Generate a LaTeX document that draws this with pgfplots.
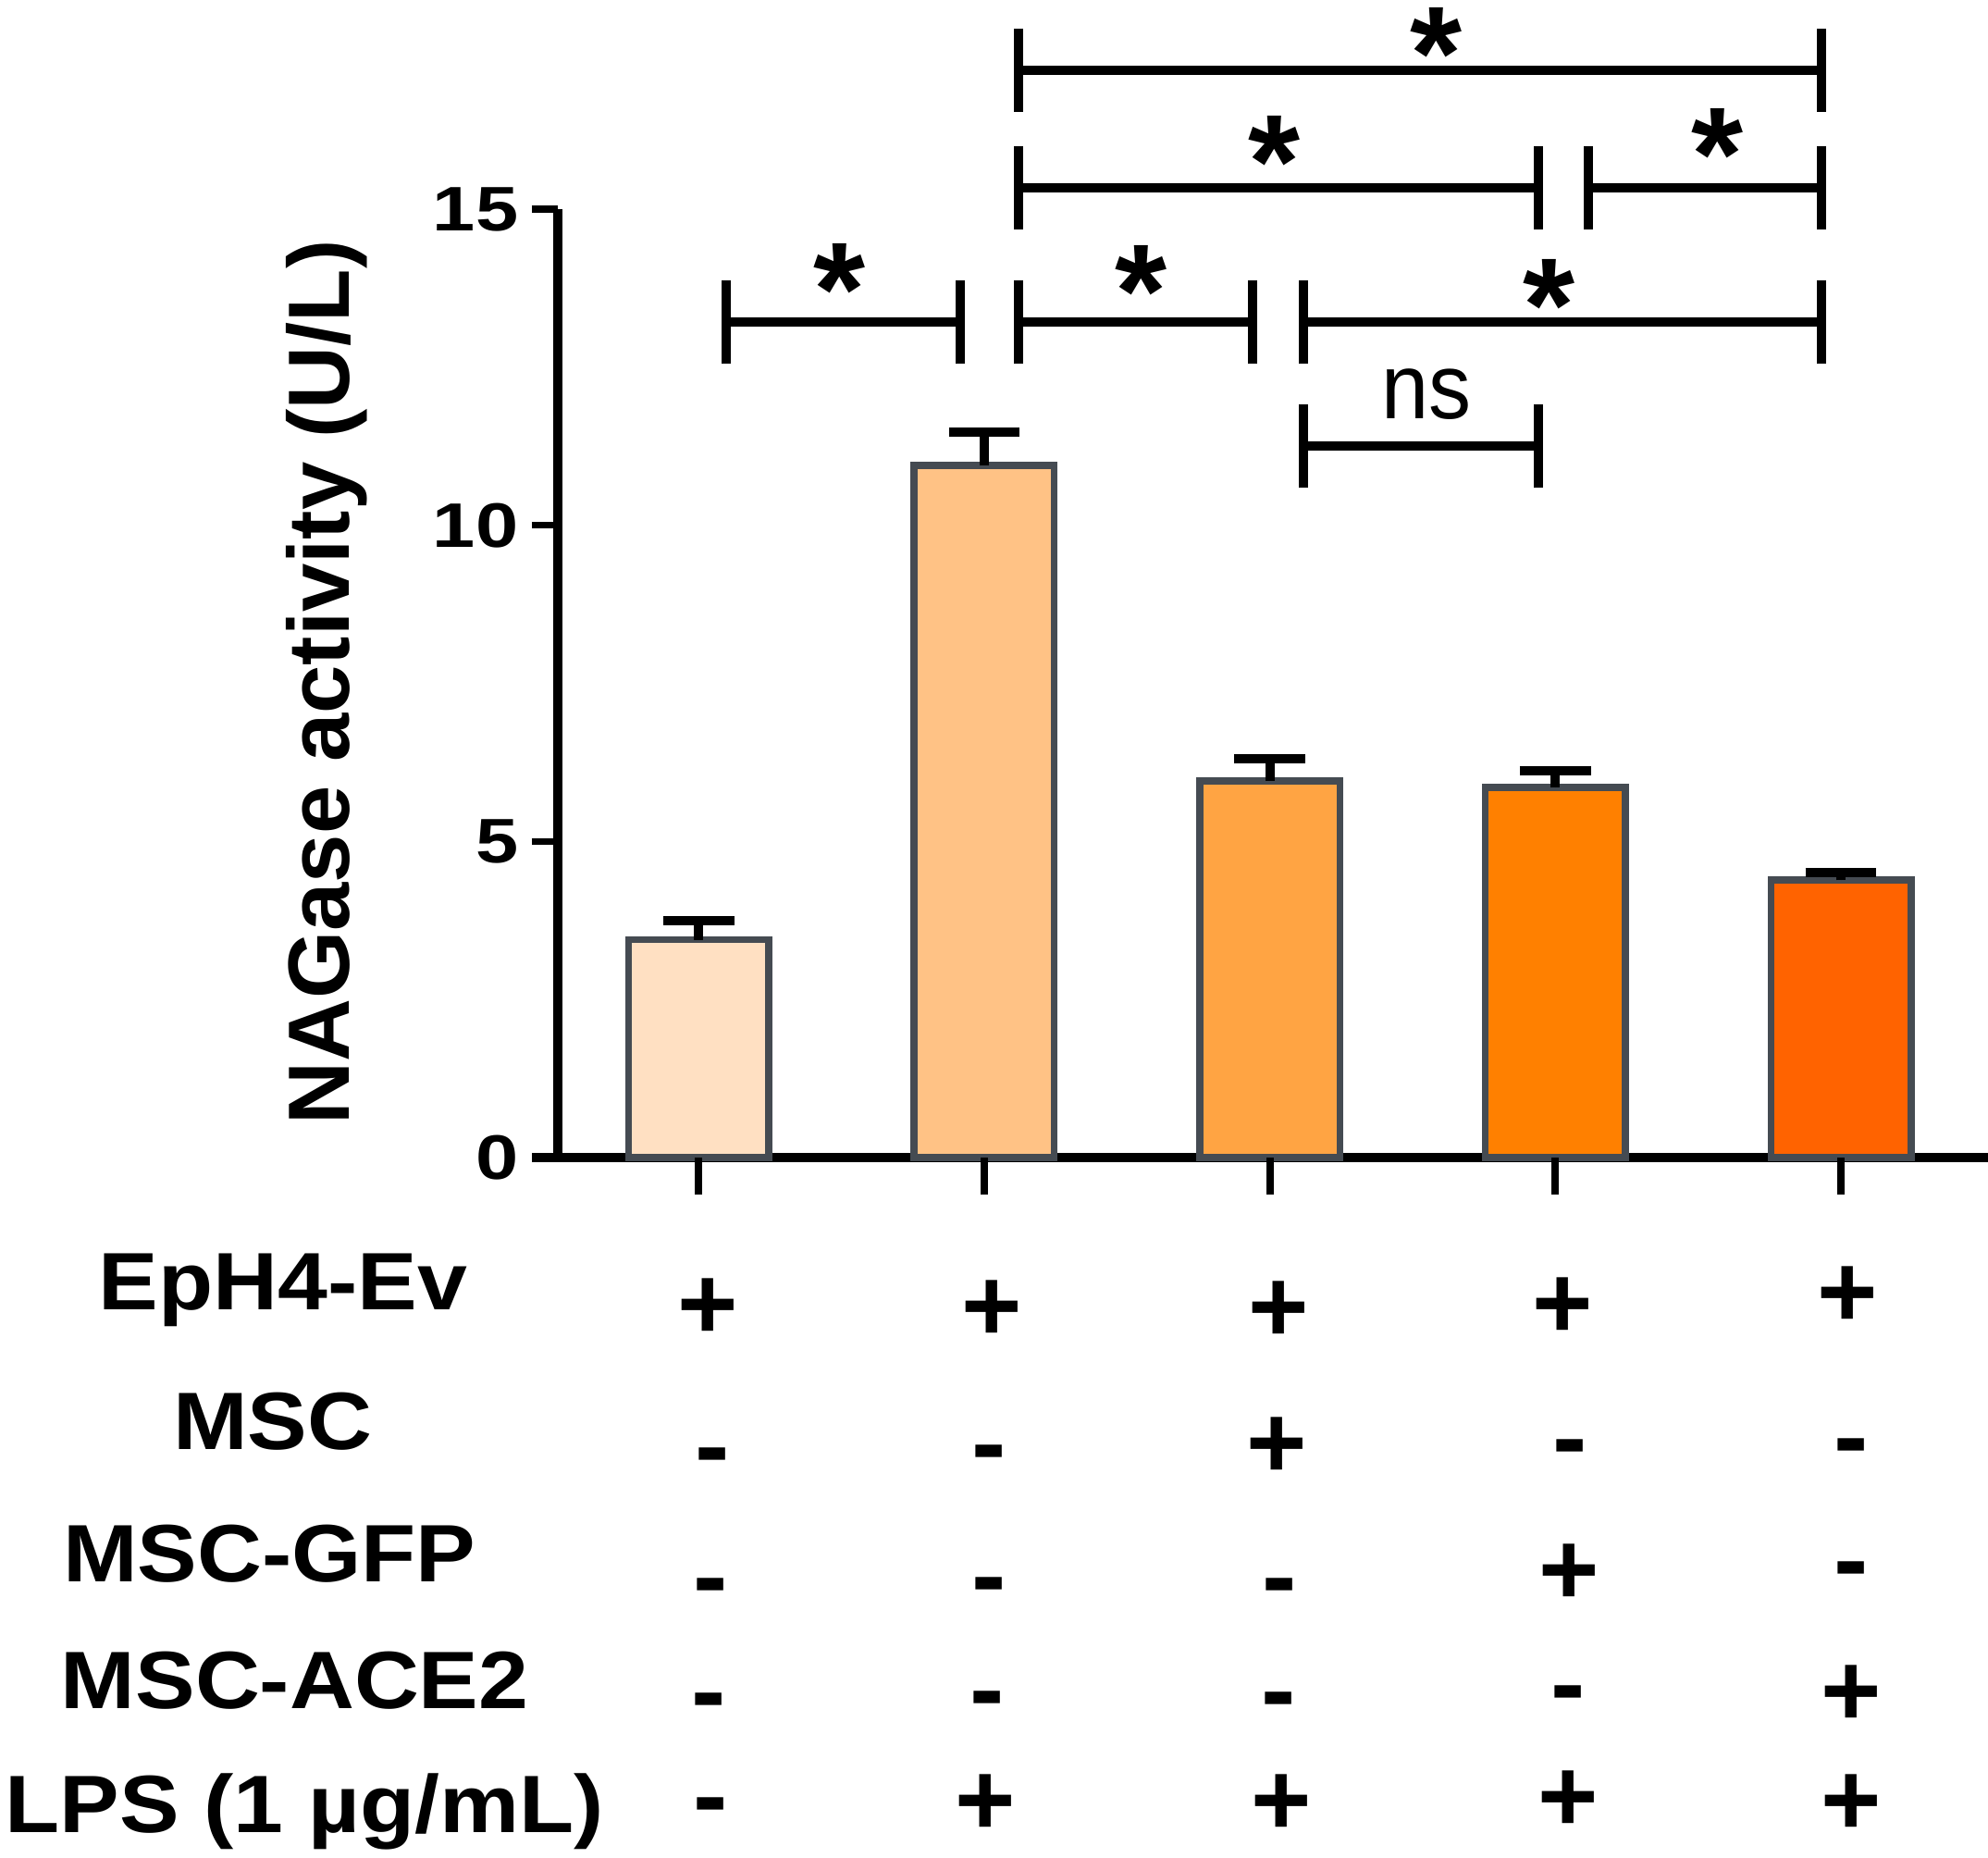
\documentclass[border=0pt]{standalone}
\usepackage{graphicx}
\usepackage{pgfplots}
\pgfplotsset{compat=1.18}
\usepackage{fontspec}
\setmainfont{Liberation Sans}
\definecolor{cA}{HTML}{FFE0C2}
\definecolor{cB}{HTML}{FFC285}
\definecolor{cC}{HTML}{FFA443}
\definecolor{cD}{HTML}{FF8000}
\definecolor{cE}{HTML}{FF6300}
\definecolor{edge}{HTML}{454B52}
\newcommand{\cell}[3]{\node[anchor=base, inner sep=0pt, font=\fontsize{28}{28}\selectfont\bfseries] at (axis cs:#1,#2) {#3};}
\newcommand{\rowlab}[3]{\node[anchor=base, inner sep=0pt, font=\fontsize{22}{22}\selectfont\bfseries] at (axis cs:#1,#2) {\scalebox{1.1}[1]{#3}};}
\newcommand{\brk}[3]{\draw[line width=2.5pt] (axis cs:#1,#3-0.66) -- (axis cs:#1,#3+0.66) (axis cs:#1,#3) -- (axis cs:#2,#3) (axis cs:#2,#3-0.66) -- (axis cs:#2,#3+0.66);}
\newcommand{\sigstar}[2]{\node[anchor=north, inner sep=0pt, font=\fontsize{36}{36}\selectfont\bfseries] at (axis cs:#1,#2) {*};}
\begin{document}
\begin{tikzpicture}
\useasboundingbox (-150.75pt,-189pt) rectangle (386.5pt,312.75pt);
\begin{axis}[
  scale only axis, width=386.5pt, height=256.25pt,
  xmin=-0.493, xmax=4.515, ymin=0, ymax=15,
  clip=false,
  axis x line=bottom, axis y line=left,
  axis line style={line width=2.4pt, -},
  xtick=\empty,
  ytick={0,5,10,15},
  tick align=outside,
  major tick length=7pt,
  ytick style={line width=1.8pt, black},
  /pgf/number format/assume math mode=true,
  yticklabel style={font=\fontsize{17}{17}\selectfont\bfseries, inner sep=0pt, xshift=-3.5pt},
  yticklabel={\scalebox{1.22}[1]{\pgfmathprintnumber{\tick}}},
]
\addplot[ybar, bar shift=0pt, bar width=37.85pt, fill=cA, draw=edge, line width=1.9pt,
  error bars/.cd, y dir=plus, y explicit, error bar style={line width=2.5pt, black},
  error mark options={rotate=90, mark size=9.6pt, line width=2.5pt, black}]
  coordinates {(0,3.446) +- (0,0.301)};
\addplot[ybar, bar shift=0pt, bar width=37.85pt, fill=cB, draw=edge, line width=1.9pt,
  error bars/.cd, y dir=plus, y explicit, error bar style={line width=2.5pt, black},
  error mark options={rotate=90, mark size=9.6pt, line width=2.5pt, black}]
  coordinates {(1,10.947) +- (0,0.52)};
\addplot[ybar, bar shift=0pt, bar width=37.85pt, fill=cC, draw=edge, line width=1.9pt,
  error bars/.cd, y dir=plus, y explicit, error bar style={line width=2.5pt, black},
  error mark options={rotate=90, mark size=9.6pt, line width=2.5pt, black}]
  coordinates {(2,5.953) +- (0,0.357)};
\addplot[ybar, bar shift=0pt, bar width=37.85pt, fill=cD, draw=edge, line width=1.9pt,
  error bars/.cd, y dir=plus, y explicit, error bar style={line width=2.5pt, black},
  error mark options={rotate=90, mark size=9.6pt, line width=2.5pt, black}]
  coordinates {(3,5.854) +- (0,0.259)};
\addplot[ybar, bar shift=0pt, bar width=37.85pt, fill=cE, draw=edge, line width=1.9pt,
  error bars/.cd, y dir=plus, y explicit, error bar style={line width=2.5pt, black},
  error mark options={rotate=90, mark size=9.6pt, line width=2.5pt, black}]
  coordinates {(4,4.39) +- (0,0.12)};
% x ticks
\pgfplotsinvokeforeach{0,1,2,3,4}{\draw[line width=2pt] (axis cs:#1,0) -- ([yshift=-10pt]axis cs:#1,0);}
% brackets
\brk{0.098}{0.915}{13.21}
\brk{1.119}{1.94}{13.21}
\brk{2.118}{3.933}{13.21}
\brk{2.118}{2.939}{11.25}
\brk{1.119}{2.939}{15.34}
\brk{3.117}{3.933}{15.34}
\brk{1.119}{3.933}{17.2}
\sigstar{0.493}{14.47}
\sigstar{1.549}{14.44}
\sigstar{2.979}{14.22}
\sigstar{2.016}{16.48}
\sigstar{3.569}{16.60}
\sigstar{2.584}{18.19}
\node[anchor=base, inner sep=0pt, font=\fontsize{25}{25}\selectfont] at (axis cs:2.55,11.69) {\scalebox{0.92}[1]{ns}};
% y label
\node[rotate=90, anchor=base, inner sep=0pt, font=\fontsize{23.5}{23.5}\selectfont\bfseries] at (axis cs:-1.2245,7.518) {NAGase activity (U/L)};
% row labels
\rowlab{-1.455}{-2.41}{EpH4-Ev}
\rowlab{-1.491}{-4.617}{MSC}
\rowlab{-1.503}{-6.703}{MSC-GFP}
\rowlab{-1.414}{-8.708}{MSC-ACE2}
\rowlab{-1.38}{-10.67}{LPS (1 µg/mL)}
% cells
\cell{0.031}{-2.873}{+}\cell{1.026}{-2.907}{+}\cell{2.03}{-2.92}{+}\cell{3.025}{-2.854}{+}\cell{4.022}{-2.688}{+}
\cell{0.049}{-5.116}{-}\cell{1.017}{-5.064}{-}\cell{2.025}{-5.064}{+}\cell{3.05}{-4.985}{-}\cell{4.036}{-4.965}{-}
\cell{0.042}{-7.175}{-}\cell{1.017}{-7.162}{-}\cell{2.034}{-7.175}{-}\cell{3.047}{-7.076}{+}\cell{4.036}{-6.911}{-}
\cell{0.036}{-8.99}{-}\cell{1.01}{-8.957}{-}\cell{2.03}{-8.977}{-}\cell{3.044}{-8.877}{-}\cell{4.036}{-8.989}{+}
\cell{0.042}{-10.65}{-}\cell{1.004}{-10.72}{+}\cell{2.04}{-10.72}{+}\cell{3.044}{-10.66}{+}\cell{4.036}{-10.72}{+}
\end{axis}
\draw[line width=2.4pt] (0,0) -- (-7pt,0);
\end{tikzpicture}
\end{document}
